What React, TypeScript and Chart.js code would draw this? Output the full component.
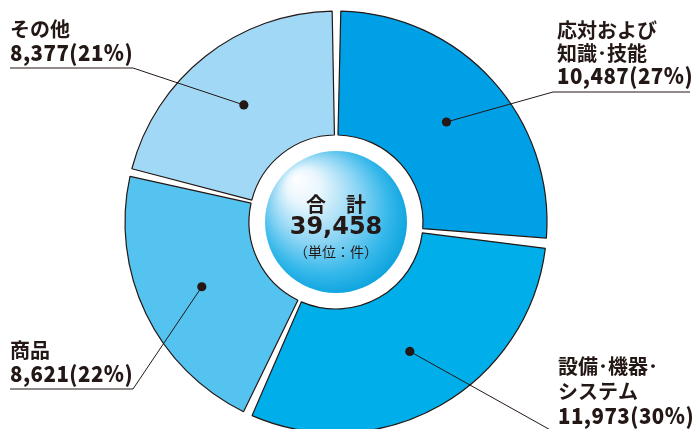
import React, { useEffect, useRef } from 'react';
import { Chart, registerables } from 'chart.js';

Chart.register(...registerables);

// ---- data ----
const categories = ['応対および知識・技能', '設備・機器・システム', '商品', 'その他'];
const labelLines = [['応対および', '知識･技能'], ['設備･機器･', 'システム'], ['商品'], ['その他']];
const counts = [10487, 11973, 8621, 8377];
const percents = [27, 30, 22, 21];
const totalCount = 39458;
const centerTitle = '合　計';
const centerUnit = '（単位：件）';

// ---- styles ----
const sliceColors = ['#00A0E6', '#00AFEA', '#55C3F0', '#A1D8F5'];
const ink = '#231815';
const W = 694;
const H = 429;
const SPACING = 8;
const OUTER_R = 211 - SPACING / 2;
const INNER_R = 87;
const BALL_R = 71;

// label layout (annotation positions)
const labelLayout = [
  { x: 557, y0: 30, lh: 23, elbow: [553, 92], end: [690, 92] },
  { x: 558, y0: 366, lh: 25, elbow: [563, 437], end: [690, 437] },
  { x: 10, y0: 350, lh: 23.5, elbow: [133, 389], end: [10, 389] },
  { x: 10, y0: 29, lh: 24, elbow: [133, 68], end: [10, 68] },
];

const fmt = (n: number) => n.toLocaleString('en-US');

const overlayPlugin = {
  id: 'overlay',
  afterDatasetsDraw(chart: any) {
    const ctx: CanvasRenderingContext2D = chart.ctx;
    const meta = chart.getDatasetMeta(0);
    const a0 = meta.data[0] as any;
    const cx = a0.x;
    const cy = a0.y;

    // center ball
    ctx.save();
    const g = ctx.createRadialGradient(cx - 40, cy - 44, 0, cx - 6, cy - 6, BALL_R + 8);
    g.addColorStop(0, '#ffffff');
    g.addColorStop(0.22, '#e8f6fd');
    g.addColorStop(0.55, '#8dd5f4');
    g.addColorStop(0.82, '#35b8ea');
    g.addColorStop(1, '#0ea4df');
    ctx.beginPath();
    ctx.arc(cx, cy, BALL_R, 0, Math.PI * 2);
    ctx.fillStyle = g;
    ctx.fill();

    ctx.fillStyle = ink;
    ctx.textAlign = 'center';
    ctx.textBaseline = 'middle';
    ctx.font = 'bold 20px "Noto Sans CJK JP"';
    ctx.fillText(centerTitle, cx, cy - 18);
    ctx.font = 'bold 24px "DejaVu Sans"';
    ctx.fillText(fmt(totalCount), cx, cy + 6);
    ctx.font = '14px "Noto Sans CJK JP"';
    ctx.fillText(centerUnit, cx, cy + 30);
    ctx.restore();

    // leader lines & labels
    meta.data.forEach((arc: any, i: number) => {
      const p = arc.tooltipPosition();
      const L = labelLayout[i];
      ctx.save();
      ctx.strokeStyle = ink;
      ctx.lineWidth = 1;
      ctx.beginPath();
      ctx.moveTo(p.x, p.y);
      ctx.lineTo(L.elbow[0], L.elbow[1]);
      ctx.lineTo(L.end[0], L.end[1]);
      ctx.stroke();
      ctx.beginPath();
      ctx.arc(p.x, p.y, 4.6, 0, Math.PI * 2);
      ctx.fillStyle = ink;
      ctx.fill();

      ctx.textAlign = 'left';
      ctx.textBaseline = 'middle';
      ctx.fillStyle = ink;
      const lines = labelLines[i];
      ctx.font = 'bold 20px "Noto Sans CJK JP"';
      lines.forEach((t, k) => {
        ctx.fillText(t, L.x, L.y0 + k * L.lh);
      });
      const numText = `${fmt(counts[i])}(${percents[i]}%)`;
      const ny = L.y0 + lines.length * L.lh;
      ctx.font = '900 22px "Noto Sans CJK JP"';
      ctx.translate(L.x, ny);
      ctx.scale(0.93, 1);
      (ctx as any).letterSpacing = '0.5px';
      ctx.fillText(numText, 0, 0);
      ctx.restore();
    });
  },
};

export default function App() {
  const ref = useRef<HTMLCanvasElement | null>(null);
  useEffect(() => {
    document.body.style.margin = '0';
    const canvas = ref.current;
    if (!canvas) return;
    const chart = new Chart(canvas, {
      type: 'doughnut',
      data: {
        labels: categories,
        datasets: [
          {
            data: counts,
            backgroundColor: sliceColors,
            borderColor: ink,
            borderWidth: 1.2,
            spacing: SPACING,
          },
        ],
      },
      options: {
        responsive: false,
        animation: false,
        devicePixelRatio: 1,
        radius: OUTER_R,
        cutout: `${((INNER_R - SPACING / 2) / OUTER_R) * 100}%`,
        layout: { padding: { left: 0, right: 22, top: 15, bottom: 0 } },
        plugins: {
          legend: { display: false },
          tooltip: { enabled: false },
        },
        events: [],
      },
      plugins: [overlayPlugin],
    } as any);
    return () => chart.destroy();
  }, []);
  return (
    <div style={{ position: 'fixed', left: 0, top: 0, width: W, height: H, background: '#fff', overflow: 'hidden' }}>
      <canvas ref={ref} width={W} height={H} style={{ width: W, height: H, display: 'block' }} />
    </div>
  );
}
